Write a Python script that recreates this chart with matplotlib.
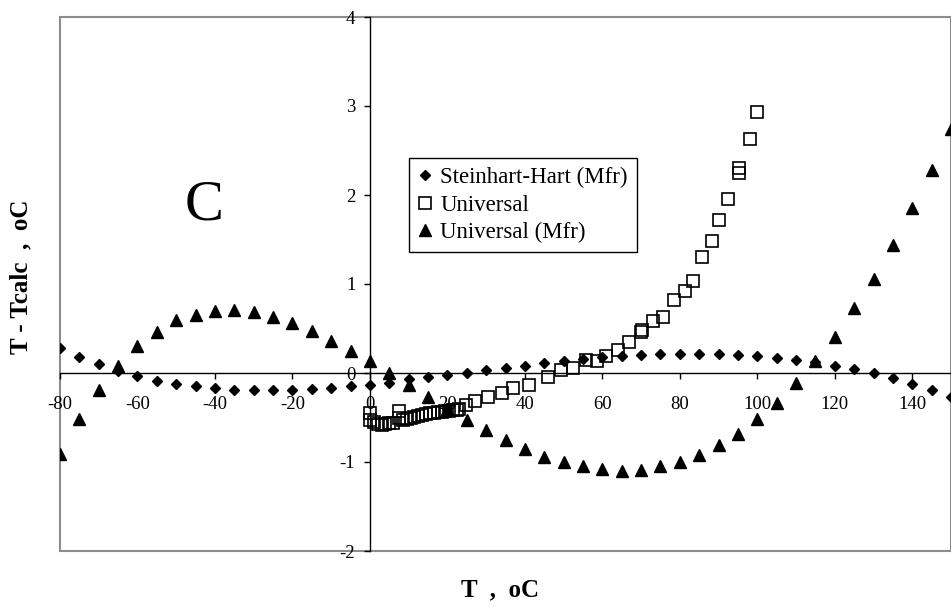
import matplotlib
matplotlib.use('Agg')
import matplotlib.pyplot as plt
from matplotlib.patches import Rectangle

plt.rcParams['font.family'] = ['Liberation Serif', 'DejaVu Serif']
plt.rcParams['axes.unicode_minus'] = False

# Steinhart-Hart (Mfr) and Universal (Mfr): every 5 degrees from -80 to 150
t_step = list(range(-80, 155, 5))
sh_mfr = [0.28, 0.18, 0.10, 0.02, -0.03, -0.09, -0.12, -0.15, -0.17, -0.19,
          -0.19, -0.19, -0.19, -0.18, -0.17, -0.15, -0.13, -0.11, -0.07, -0.05,
          -0.02, 0.00, 0.03, 0.06, 0.08, 0.11, 0.14, 0.16, 0.18, 0.19,
          0.20, 0.21, 0.21, 0.21, 0.21, 0.20, 0.19, 0.17, 0.15, 0.12,
          0.08, 0.05, 0.00, -0.06, -0.12, -0.19, -0.27]
univ_mfr = [-0.91, -0.52, -0.19, 0.08, 0.30, 0.46, 0.59, 0.65, 0.70, 0.71,
            0.68, 0.63, 0.56, 0.47, 0.36, 0.25, 0.13, 0.00, -0.13, -0.27,
            -0.40, -0.53, -0.64, -0.75, -0.85, -0.94, -1.00, -1.05, -1.08, -1.10,
            -1.09, -1.05, -1.00, -0.92, -0.81, -0.68, -0.52, -0.34, -0.11, 0.13,
            0.41, 0.73, 1.06, 1.44, 1.85, 2.28, 2.74]

# Universal fit, measured at irregular temperatures
t_univ = [0, 0, 1, 2, 3, 4, 5, 6, 7.5, 7.5, 8.5, 9.5, 10.5, 11.5, 12.5, 13.5,
          14.5, 15.5, 16.5, 17.5, 18.5, 19.5, 20.5, 21.5, 22.5, 23, 24.8, 27,
          30.4, 34, 37, 41, 46, 49.3, 52.4, 55.7, 58.5, 61, 64, 67, 70, 70.2,
          73, 75.6, 78.5, 81.3, 83.4, 85.6, 88.2, 90.1, 92.5, 95.2, 95.2, 98.1,
          100]
univ = [-0.45, -0.53, -0.55, -0.57, -0.58, -0.57, -0.56, -0.56, -0.43, -0.50,
        -0.53, -0.52, -0.50, -0.49, -0.48, -0.47, -0.46, -0.45, -0.45, -0.44,
        -0.44, -0.43, -0.43, -0.42, -0.42, -0.40, -0.36, -0.32, -0.27, -0.23,
        -0.17, -0.13, -0.05, 0.03, 0.06, 0.15, 0.13, 0.19, 0.26, 0.35,
        0.46, 0.48, 0.58, 0.63, 0.82, 0.92, 1.03, 1.30, 1.48, 1.72,
        1.96, 2.25, 2.30, 2.63, 2.93]

x_ticks = [-80, -60, -40, -20, 0, 20, 40, 60, 80, 100, 120, 140]
y_ticks = [-2, -1, 0, 1, 2, 3, 4]

fig = plt.figure(figsize=(9.51, 6.07), dpi=100)
ax = fig.add_axes([60 / 951, 56 / 607, 891 / 951, 534 / 607])

ax.plot(t_step, sh_mfr, ls='none', marker='D', ms=5.6, color='black',
        label='Steinhart-Hart (Mfr)', zorder=3)
ax.plot(t_univ, univ, ls='none', marker='s', ms=8.2, mfc='none', mec='black',
        mew=1.2, label='Universal', zorder=3)
ax.plot(t_step, univ_mfr, ls='none', marker='^', ms=8.5, color='black',
        label='Universal (Mfr)', zorder=3)

ax.set_xlim(-80, 150)
ax.set_ylim(-2, 4)
ax.set_xticks(x_ticks)
ax.set_yticks(y_ticks)

# axes cross at the origin, grey frame round the plot area
ax.spines['left'].set_position(('data', 0))
ax.spines['bottom'].set_position(('data', 0))
ax.spines['top'].set_visible(False)
ax.spines['right'].set_visible(False)
for s in ['left', 'bottom']:
    ax.spines[s].set_linewidth(1.0)
    ax.spines[s].set_color('black')
ax.add_patch(Rectangle((0, 0), 1, 1, transform=ax.transAxes, fill=False,
                       ec='#8c8c8c', lw=1.5, clip_on=False, zorder=1))

ax.tick_params(axis='x', direction='out', length=4, width=1.0, pad=12.5,
               labelsize=13.5)
ax.tick_params(axis='y', direction='out', length=4, width=1.0, pad=6.5,
               labelsize=13.5)

ax.text(-42.8, 1.72, 'C', fontsize=42, ha='center', va='baseline')

leg = ax.legend(loc='upper left', bbox_to_anchor=(0.392, 0.736), fontsize=16.5,
                numpoints=1, frameon=True, fancybox=False, framealpha=1,
                edgecolor='black', handlelength=0.6, handletextpad=0.35,
                labelspacing=0.28, borderpad=0.4, borderaxespad=0)
leg.get_frame().set_linewidth(1.0)

fig.text(21 / 951, 1 - 277 / 607, 'T - Tcalc  ,  oC', rotation=90,
         ha='center', va='center', fontsize=18, fontweight='bold')
fig.text(500 / 951, 1 - 590 / 607, 'T  ,  oC', ha='center', va='center',
         fontsize=18, fontweight='bold')

fig.savefig('out.png', dpi=100)
